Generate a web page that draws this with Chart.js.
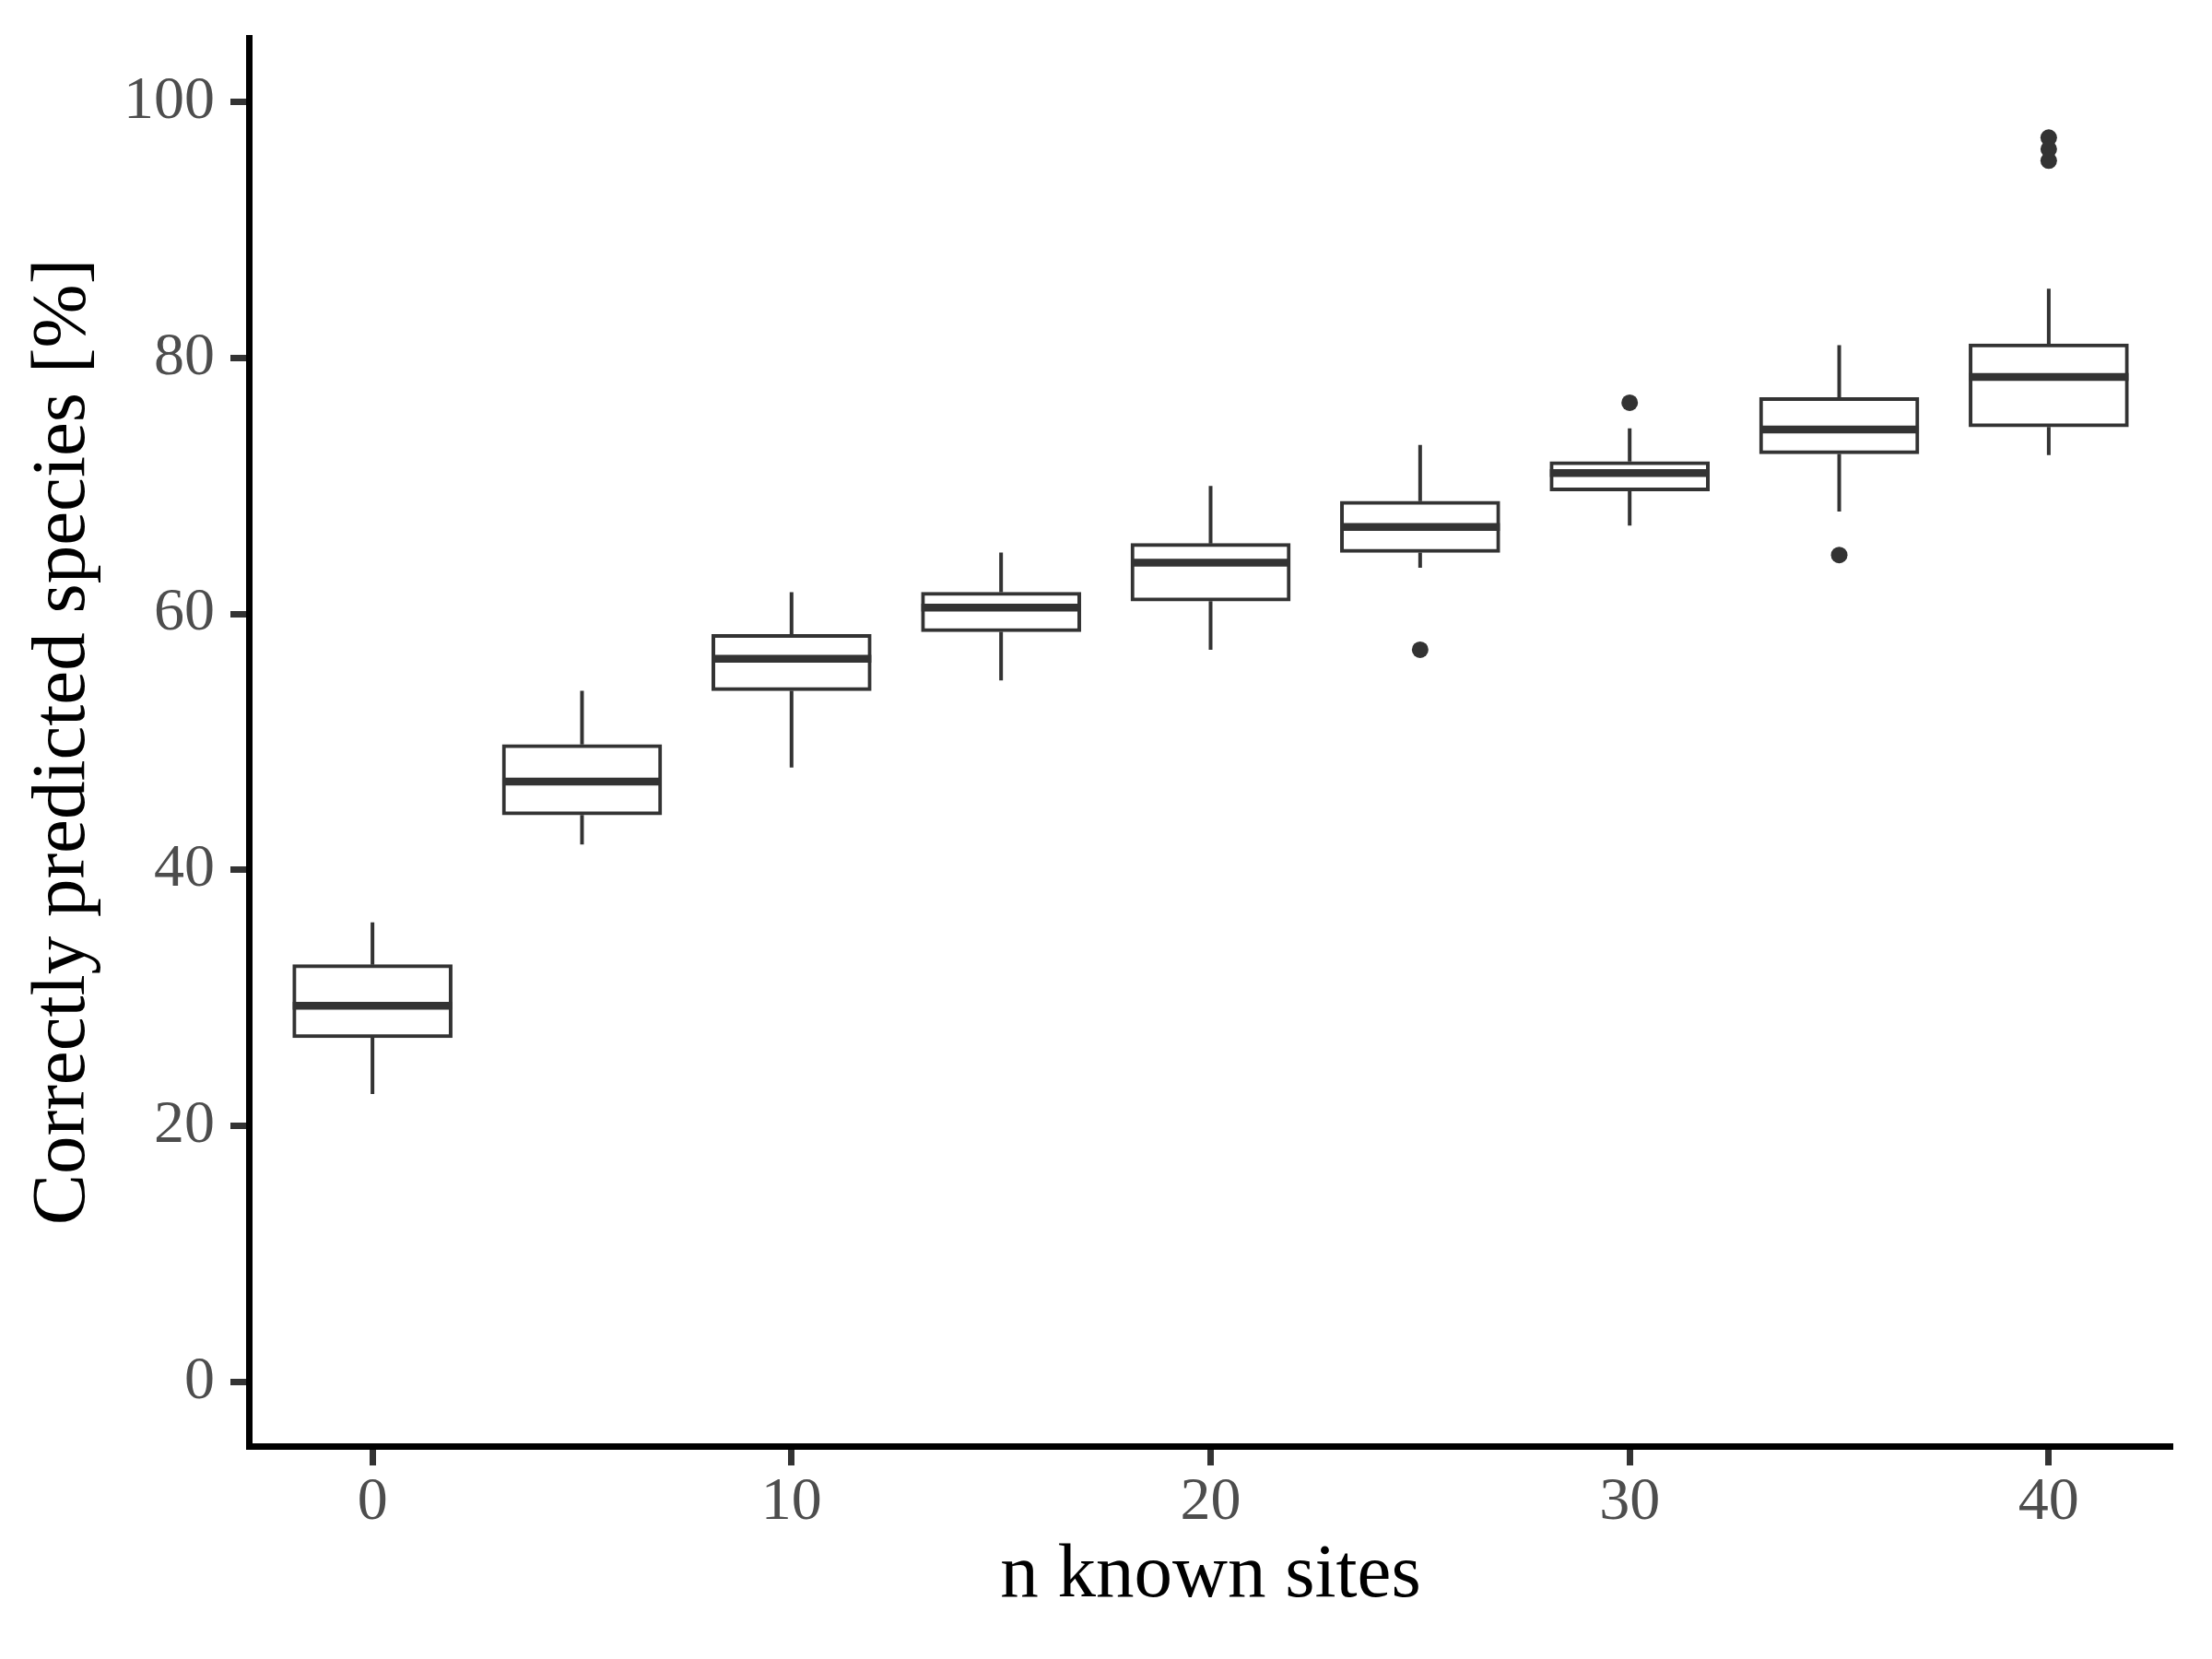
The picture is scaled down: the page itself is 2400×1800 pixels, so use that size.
<!DOCTYPE html>
<html>
<head>
<meta charset="utf-8">
<script src="https://cdn.jsdelivr.net/npm/chart.js@4/dist/chart.umd.min.js"></script>
<style>
  html, body { margin: 0; padding: 0; background: #ffffff; }
  #wrap { width: 2400px; height: 1800px; }
</style>
</head>
<body>
<div id="wrap"><canvas id="c" width="2400" height="1800"></canvas></div>
<script>
// ---- data ----
const sites       = [0, 5, 10, 15, 20, 25, 30, 35, 40];
const whiskerLow  = [22.5, 42.0, 48.0, 54.8, 57.2, 63.6, 66.9, 68.0, 72.4];
const q1          = [26.9, 44.3, 54.0, 58.6, 61.0, 64.8, 69.6, 72.5, 74.6];
const medians     = [29.4, 46.9, 56.5, 60.5, 64.0, 66.8, 71.0, 74.4, 78.5];
const q3          = [32.6, 49.8, 58.4, 61.7, 65.5, 68.8, 71.9, 76.9, 81.1];
const whiskerHigh = [35.9, 54.0, 61.7, 64.8, 70.0, 73.2, 74.5, 81.0, 85.4];
const outlierX    = [25, 30, 35, 40, 40, 40];
const outlierY    = [57.2, 76.5, 64.6, 97.2, 96.3, 95.4];
const xTicks      = [0, 10, 20, 30, 40];
const yTicks      = [0, 20, 40, 60, 80, 100];
const xTitle      = 'n known sites';
const yTitle      = 'Correctly predicted species [%]';

// ---- styles ----
const INK = '#333333';
const FONT = "'Liberation Serif', 'Times New Roman', serif";

const boxData = sites.map((s, i) => ({ x: s, y: [q1[i], q3[i]] }));
const medianData = sites.map((s, i) => ({ x: s, y: medians[i] }));
const whiskerData = [];
sites.forEach((s, i) => {
  whiskerData.push({ x: s, y: whiskerLow[i] }, { x: s, y: q1[i] }, { x: s, y: null });
  whiskerData.push({ x: s, y: q3[i] }, { x: s, y: whiskerHigh[i] }, { x: s, y: null });
});
const outlierData = outlierX.map((x, i) => ({ x: x, y: outlierY[i] }));

new Chart(document.getElementById('c'), {
  type: 'bar',
  data: {
    datasets: [
      {
        type: 'scatter',
        label: 'median',
        data: medianData,
        pointStyle: 'line',
        pointRadius: 86.5,
        pointHoverRadius: 86.5,
        pointBorderWidth: 8.5,
        pointBorderColor: INK,
        pointBackgroundColor: INK,
        showLine: false
      },
      {
        type: 'bar',
        label: 'box',
        data: boxData,
        backgroundColor: '#ffffff',
        borderColor: INK,
        borderWidth: 4,
        borderSkipped: false,
        barThickness: 173,
        grouped: false
      },
      {
        type: 'line',
        label: 'whiskers',
        data: whiskerData,
        borderColor: INK,
        borderWidth: 4,
        pointRadius: 0,
        spanGaps: false,
        fill: false,
        tension: 0
      },
      {
        type: 'scatter',
        label: 'outliers',
        data: outlierData,
        pointStyle: 'circle',
        pointRadius: 9,
        pointBorderWidth: 0,
        pointBackgroundColor: INK,
        pointBorderColor: INK
      }
    ]
  },
  options: {
    responsive: false,
    maintainAspectRatio: false,
    devicePixelRatio: 1,
    animation: false,
    layout: { autoPadding: false, padding: { top: 41, right: 43, left: 0, bottom: 0 } },
    plugins: {
      legend: { display: false },
      tooltip: { enabled: false },
      title: { display: false }
    },
    scales: {
      x: {
        type: 'linear',
        min: -2.95,
        max: 42.95,
        offset: false,
        afterFit: (s) => { s.height = 231; s.paddingLeft = 0; s.paddingRight = 0; },
        afterBuildTicks: (s) => { s.ticks = xTicks.map(v => ({ value: v })); },
        ticks: {
          includeBounds: false,
          autoSkip: false,
          maxRotation: 0,
          padding: 1,
          color: '#4d4d4d',
          font: { family: FONT, size: 66 }
        },
        grid: {
          offset: false,
          drawOnChartArea: false,
          drawTicks: true,
          tickLength: 21,
          tickWidth: 7,
          tickColor: INK
        },
        border: { display: true, color: '#000000', width: 7 },
        title: {
          display: true,
          text: xTitle,
          color: '#000000',
          font: { family: FONT, size: 83 },
          padding: { top: 0, bottom: 40 }
        }
      },
      y: {
        type: 'linear',
        min: -5,
        max: 105,
        beginAtZero: false,
        afterFit: (s) => { s.width = 270; s.paddingTop = 0; s.paddingBottom = 0; },
        afterBuildTicks: (s) => { s.ticks = yTicks.map(v => ({ value: v })); },
        ticks: {
          includeBounds: false,
          autoSkip: false,
          padding: 17,
          color: '#4d4d4d',
          font: { family: FONT, size: 66 }
        },
        grid: {
          offset: false,
          drawOnChartArea: false,
          drawTicks: true,
          tickLength: 20,
          tickWidth: 7,
          tickColor: INK
        },
        border: { display: true, color: '#000000', width: 7 },
        title: {
          display: true,
          text: yTitle,
          color: '#000000',
          font: { family: FONT, size: 83 },
          padding: { top: 19, bottom: 0 }
        }
      }
    }
  }
});
</script>
</body>
</html>
